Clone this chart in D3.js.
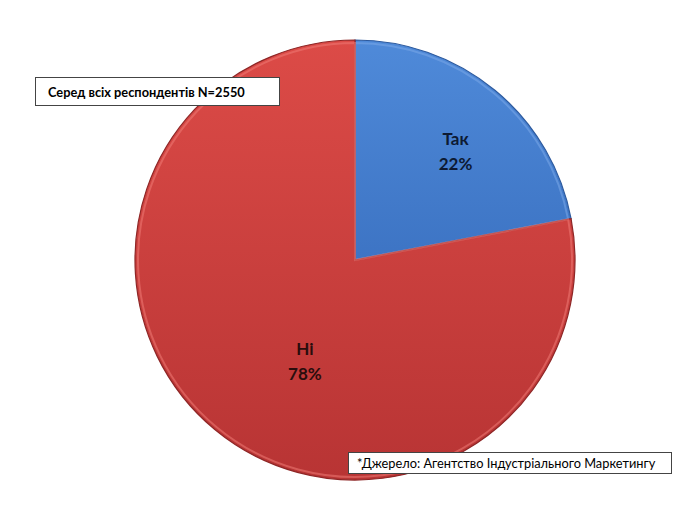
<!DOCTYPE html>
<html>
<head>
<meta charset="utf-8">
<script src="https://cdn.jsdelivr.net/npm/d3@7"></script>
<style>
  html, body { margin: 0; padding: 0; background: #fff; }
  svg { display: block; }
</style>
</head>
<body>
<svg id="chart" width="700" height="510"></svg>
<script>
// ---- data ----
const categories = ["Так", "Ні"];
const values = [22, 78];
const percentLabels = ["22%", "78%"];
const noteText = "Серед всіх респондентів N=2550";
const sourceText = "*Джерело: Агентство Індустріального Маркетингу";

// ---- drawing ----
const svg = d3.select("#chart");
const cx = 355, cy = 260, R = 220;
const defs = svg.append("defs");

const grads = [
  { id: "gBlue", stops: ["#4f8ad9", "#3d74c4"] },
  { id: "gRed", stops: ["#dc4b47", "#b83434"] }
];
grads.forEach(g => {
  const lg = defs.append("linearGradient").attr("id", g.id)
    .attr("x1", 0).attr("y1", 0).attr("x2", 0).attr("y2", 1);
  lg.append("stop").attr("offset", "0%").attr("stop-color", g.stops[0]);
  lg.append("stop").attr("offset", "100%").attr("stop-color", g.stops[1]);
});
const fills = ["url(#gBlue)", "url(#gRed)"];
const edgeColors = ["#2d5a9e", "#8e2626"];
const bevelColors = ["#7aa8e8", "#ee7a74"];

const pie = d3.pie().sort(null).value(d => d)(values);
const arc = d3.arc().innerRadius(0).outerRadius(R);
const bevelArc = d3.arc().innerRadius(0).outerRadius(R - 3);

const g = svg.append("g").attr("transform", `translate(${cx},${cy})`);

const slices = g.selectAll("g.slice").data(pie).join("g").attr("class", "slice");
slices.append("path")
  .attr("d", arc)
  .attr("fill", (d, i) => fills[i])
  .attr("stroke", (d, i) => edgeColors[i])
  .attr("stroke-width", 1.2);
slices.append("path")
  .attr("d", bevelArc)
  .attr("fill", "none")
  .attr("stroke", (d, i) => bevelColors[i])
  .attr("stroke-opacity", 0.55)
  .attr("stroke-width", 2);

// labels
const labelRadius = [0.70 * R, 0.48 * R];
const labelAngleShift = [0.02, -0.197];
const labels = g.selectAll("g.lbl").data(pie).join("g").attr("class", "lbl")
  .attr("transform", (d, i) => {
    const a = (d.startAngle + d.endAngle) / 2 + labelAngleShift[i];
    const r = labelRadius[i];
    return `translate(${r * Math.sin(a)},${-r * Math.cos(a)})`;
  });
labels.append("text")
  .attr("text-anchor", "middle")
  .attr("y", 2)
  .attr("font-family", "Lato, 'Open Sans', sans-serif")
  .attr("font-weight", "bold")
  .attr("font-size", 17)
  .attr("fill", (d, i) => i === 0 ? "#0d1a33" : "#2a0d0d")
  .text((d, i) => categories[i]);
labels.append("text")
  .attr("text-anchor", "middle")
  .attr("y", 27)
  .attr("font-family", "Lato, 'Open Sans', sans-serif")
  .attr("font-weight", "bold")
  .attr("font-size", 17)
  .attr("fill", (d, i) => i === 0 ? "#0d1a33" : "#2a0d0d")
  .text((d, i) => percentLabels[i]);

// note box
const note = svg.append("g");
note.append("rect").attr("x", 35.5).attr("y", 77.5).attr("width", 244).attr("height", 28)
  .attr("fill", "#fff").attr("stroke", "#444").attr("stroke-width", 1);
note.append("text").attr("x", 48).attr("y", 97)
  .attr("font-family", "Lato, sans-serif").attr("font-weight", "bold").attr("font-size", 12.8)
  .attr("fill", "#000").text(noteText);

// source box
const src = svg.append("g");
src.append("rect").attr("x", 348.5).attr("y", 452.5).attr("width", 323).attr("height", 21)
  .attr("fill", "#fff").attr("stroke", "#444").attr("stroke-width", 1);
src.append("text").attr("x", 357).attr("y", 468)
  .attr("font-family", "Lato, sans-serif").attr("font-size", 12.8)
  .attr("fill", "#000").text(sourceText);
</script>
</body>
</html>
